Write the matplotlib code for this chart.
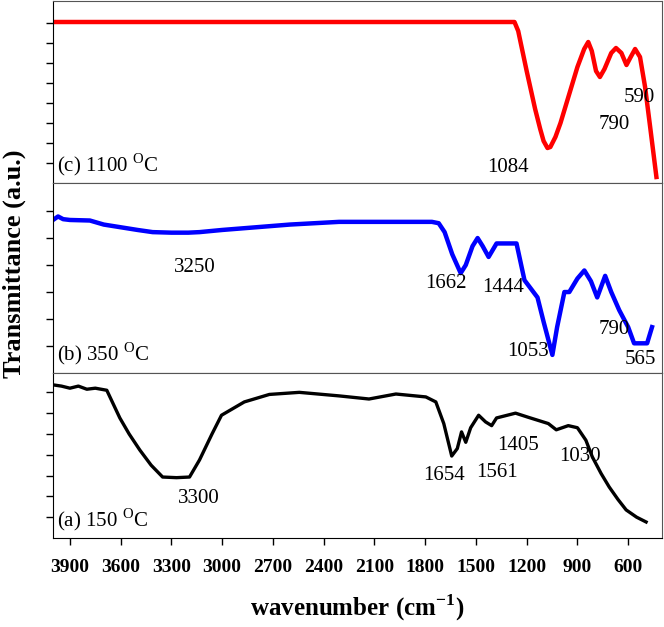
import matplotlib.pyplot as plt

plt.rcParams['font.family'] = ['Liberation Serif', 'DejaVu Serif']
plt.rcParams['mathtext.fontset'] = 'custom'
plt.rcParams['mathtext.rm'] = 'Liberation Serif'
plt.rcParams['mathtext.bf'] = 'Liberation Serif:bold'

# (c) 1100 C
wn_c = [4000, 3600, 3200, 2800, 2400, 2000, 1600, 1272, 1250, 1200, 1150, 1120, 1100, 1077, 1060,
        1030, 1000, 950, 900, 860, 836, 815, 790, 767, 740, 700, 672, 640, 610, 585, 559, 530, 500, 470, 433]
t_c = [8.05, 8.05, 8.05, 8.05, 8.05, 8.05, 8.05, 8.05, 7.6, 5.6, 3.7, 2.7, 2.1, 1.75, 1.8,
       2.3, 3.0, 4.4, 5.8, 6.7, 7.05, 6.6, 5.6, 5.3, 5.7, 6.5, 6.75, 6.5, 5.9, 6.3, 6.7, 6.3, 4.8, 2.8, 0.3]

# (b) 350 C
wn_b = [4000, 3970, 3940, 3900, 3782, 3700, 3600, 3500, 3411, 3300, 3200, 3134, 3000, 2800,
        2600, 2309, 2100, 1900, 1760, 1720, 1685, 1640, 1590, 1560, 1520, 1490, 1460, 1425,
        1378, 1300, 1260, 1213, 1136, 1100, 1048, 1020, 977, 948, 900, 859, 820, 783, 736,
        700, 653, 600, 565, 488, 459]
t_b = [5.67, 5.8, 5.7, 5.67, 5.65, 5.5, 5.4, 5.3, 5.22, 5.2, 5.2, 5.22, 5.3, 5.4,
       5.5, 5.6, 5.6, 5.6, 5.6, 5.55, 5.22, 4.4, 3.7, 4.0, 4.7, 5.0, 4.7, 4.3,
       4.8, 4.8, 4.8, 3.44, 2.8, 1.9, 0.67, 1.7, 3.0, 3.0, 3.5, 3.8, 3.4, 2.8, 3.6,
       3.0, 2.33, 1.7, 1.1, 1.1, 1.7]

# (a) 150 C
wn_a = [4000, 3950, 3900, 3850, 3800, 3750, 3682, 3605, 3550, 3487, 3420, 3352, 3270, 3193,
        3134, 3060, 3004, 2869, 2721, 2544, 2309, 2132, 1973, 1796, 1737, 1690, 1643, 1610,
        1585, 1560, 1531, 1484, 1443, 1407, 1378, 1266, 1190, 1072, 1025, 954, 900, 850,
        812, 760, 712, 660, 612, 550, 494]
t_a = [7.36, 7.3, 7.2, 7.3, 7.15, 7.2, 7.1, 5.77, 5.0, 4.23, 3.5, 2.93, 2.9, 2.93,
       3.75, 5.0, 5.9, 6.54, 6.9, 7.0, 6.83, 6.68, 6.92, 6.78, 6.54, 5.5, 3.94, 4.3,
       5.1, 4.6, 5.3, 5.9, 5.58, 5.4, 5.77, 6.0, 5.8, 5.5, 5.2, 5.4, 5.3, 4.7,
       3.9, 3.1, 2.45, 1.85, 1.35, 1.0, 0.77]

xticks = [3900, 3600, 3300, 3000, 2700, 2400, 2100, 1800, 1500, 1200, 900, 600]

fig = plt.figure(figsize=(6.64, 6.27), dpi=100)
H = 627.0
W = 664.0
left = 53 / W
width = (662 - 53) / W

panels = [
    # top px, bottom px, x, y, color, ymax, nticks, label, peaks
    (1, 183, wn_c, t_c, 'red', 9.1, 8, '(c) 1100 $^{\\rm O}$C',
     [(1084, 0.8), (790, 2.95), (590, 4.3)]),
    (183, 373, wn_b, t_b, 'blue', 7.04, 6, '(b) 350 $^{\\rm O}$C',
     [(3250, 3.9), (1662, 3.3), (1444, 3.17), (1053, 0.78), (790, 1.6), (565, 0.5)]),
    (373, 538, wn_a, t_a, 'black', 7.93, 7, '(a) 150 $^{\\rm O}$C',
     [(3300, 1.9), (1654, 3.0), (1561, 3.15), (1405, 4.45), (1030, 3.9)]),
]
label_x = {1084: 1310, 790: 680, 590: 537, 3250: 3160, 1662: 1680, 1444: 1340,
           1053: 1190, 565: 530, 3300: 3140, 1654: 1690, 1561: 1375, 1405: 1250, 1030: 885}

axes = []
for top, bot, x, y, col, ymax, nt, lab, peaks in panels:
    ax = fig.add_axes([left, 1 - bot / H, width, (bot - top) / H])
    ax.plot(x, y, color=col, lw=3.2 if col != 'black' else 2.4, solid_joinstyle='round')
    ax.set_xlim(4000, 400)
    ax.set_ylim(0, ymax)
    ax.set_xticks(xticks)
    ax.set_yticks(range(1, nt + 1))
    ax.set_yticklabels([])
    ax.tick_params(axis='y', direction='out', length=5, width=1)
    ax.tick_params(axis='x', direction='out', length=5, width=1)
    for s in ['top', 'right']:
        ax.spines[s].set_color('#555555')
    ax.text(0.006, 0.03, lab, transform=ax.transAxes, fontsize=15, va='bottom', ha='left')
    for p, yv in peaks:
        ax.text(label_x[p], yv, str(p), fontsize=15, ha='center', va='center')
    axes.append(ax)

for ax in axes[:-1]:
    ax.set_xticklabels([])
axes[-1].set_xticklabels([str(t) for t in xticks], fontsize=14, fontweight='bold')
axes[-1].tick_params(axis='x', pad=10)
axes[-1].set_xlabel('wavenumber (cm$^{\\mathbf{-1}}$)', fontsize=18, fontweight='bold', labelpad=12)

fig.text(0.022, (1 - 264 / H), 'Transmittance (a.u.)', rotation=90, fontsize=19,
         fontweight='bold', ha='center', va='center')

fig.savefig('out.png', dpi=100)
